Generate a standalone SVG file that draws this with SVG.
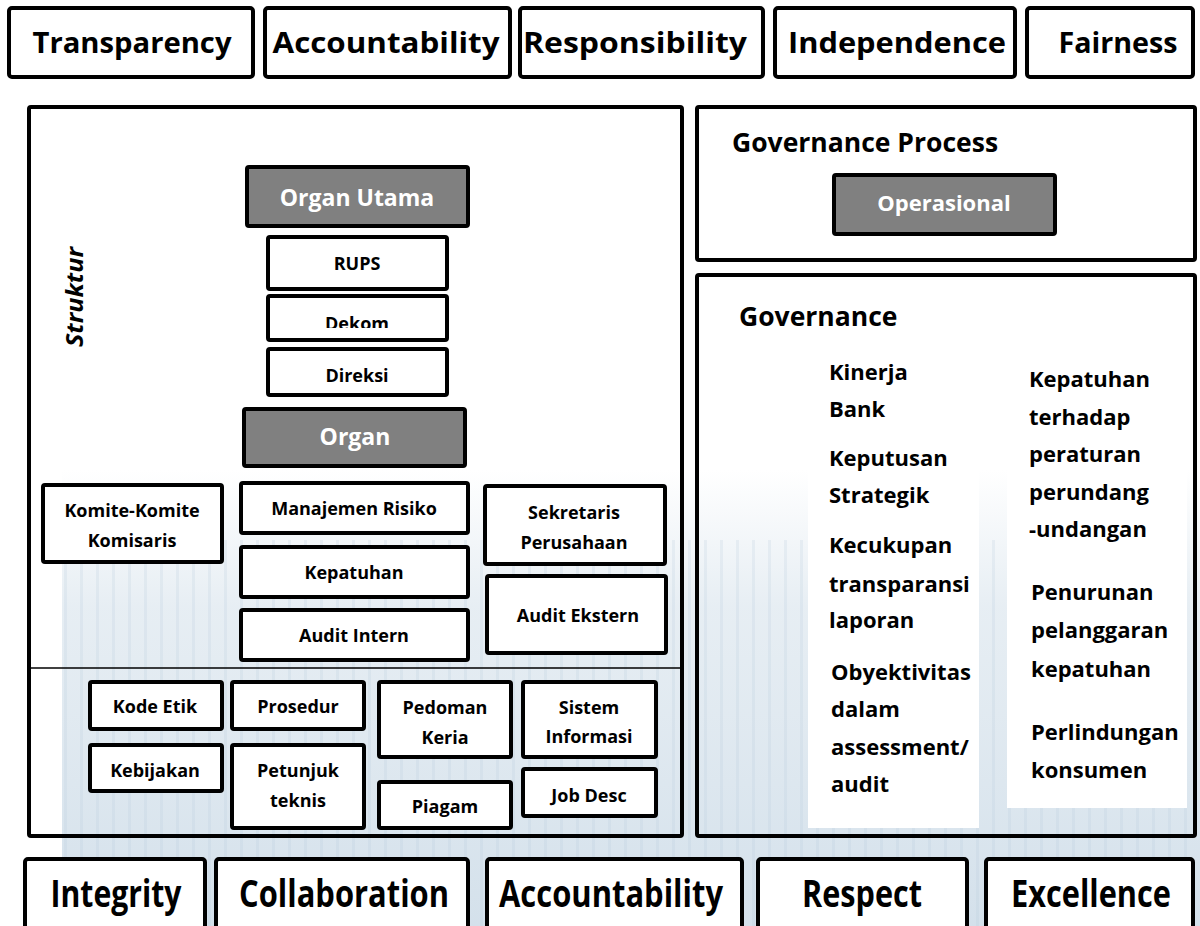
<svg xmlns="http://www.w3.org/2000/svg" width="1200" height="926" viewBox="0 0 1200 926">
<defs>
<style>
.box{fill:#fff;stroke:#000;stroke-width:4}
.dark{fill:#808080;stroke:#000;stroke-width:4}
.frame{fill:none;stroke:#000;stroke-width:4}
.t{font-family:"Open Sans","Noto Sans","Liberation Sans",sans-serif;font-weight:700;fill:#000;text-anchor:middle}
.w{fill:#fff}
.big{font-size:28px}
.low{font-size:37px}
.s{font-size:18px}
.m{font-size:23px}
.g{font-family:"Open Sans","Noto Sans","Liberation Sans",sans-serif;font-weight:700;fill:#000;font-size:22px}
.h{font-family:"Open Sans","Noto Sans","Liberation Sans",sans-serif;font-weight:700;fill:#000;font-size:26.5px}
</style>
<linearGradient id="bgfade" x1="0" y1="470" x2="0" y2="926" gradientUnits="userSpaceOnUse">
<stop offset="0" stop-color="#d3e0ea" stop-opacity="0"/>
<stop offset="0.3" stop-color="#d3e0ea" stop-opacity="0.55"/>
<stop offset="1" stop-color="#c9d9e6" stop-opacity="0.8"/>
</linearGradient>
<pattern id="stripes" x="0" y="0" width="16" height="40" patternUnits="userSpaceOnUse">
<rect x="0" y="0" width="3" height="40" fill="#b4c8d8" opacity="0.35"/>
</pattern>
<clipPath id="clipDekom"><rect x="268" y="296" width="179" height="32"/></clipPath>
<clipPath id="clipKerja"><rect x="379" y="682" width="132" height="62"/></clipPath>
</defs>
<rect x="0" y="0" width="1200" height="926" fill="#fff"/>
<g id="background">
<rect x="62" y="470" width="1138" height="456" fill="url(#bgfade)"/>
<rect x="62" y="540" width="1138" height="386" fill="url(#stripes)" opacity="0.6"/>
</g>

<g id="top-values">
<g id="transparency"><rect class="box" x="9" y="8" width="244" height="69" rx="3"/><text class="t big" x="132" y="53" textLength="199" lengthAdjust="spacingAndGlyphs">Transparency</text></g>
<g id="accountability-top"><rect class="box" x="265" y="8" width="245" height="69" rx="3"/><text class="t big" x="386" y="53" textLength="227" lengthAdjust="spacingAndGlyphs">Accountability</text></g>
<g id="responsibility"><rect class="box" x="520" y="8" width="243" height="69" rx="3"/><text class="t big" x="635" y="53" textLength="224" lengthAdjust="spacingAndGlyphs">Responsibility</text></g>
<g id="independence"><rect class="box" x="775" y="8" width="240" height="69" rx="3"/><text class="t big" x="897" y="53" textLength="218" lengthAdjust="spacingAndGlyphs">Independence</text></g>
<g id="fairness"><rect class="box" x="1027" y="8" width="166" height="69" rx="3"/><text class="t big" x="1118" y="53" textLength="119" lengthAdjust="spacingAndGlyphs">Fairness</text></g>
</g>

<g id="struktur-panel">
<rect class="frame" x="29" y="107" width="653" height="729" rx="2"/>
<text class="t" font-style="italic" font-size="23" transform="translate(83,297) rotate(-90)" textLength="100" lengthAdjust="spacingAndGlyphs">Struktur</text>
</g>
<g id="connectors">
<line x1="29" y1="668" x2="682" y2="668" stroke="#000" stroke-width="1.5"/>
</g>

<g id="organ-utama"><rect class="dark" x="247" y="167" width="221" height="59" rx="2"/><text class="t w m" x="357" y="206">Organ Utama</text></g>
<g id="rups"><rect class="box" x="268" y="237" width="179" height="52" rx="2"/><text class="t s" x="357" y="270">RUPS</text></g>
<g id="dekom"><rect class="box" x="268" y="296" width="179" height="44" rx="2"/><text class="t s" x="357" y="329.5" clip-path="url(#clipDekom)">Dekom</text></g>
<g id="direksi"><rect class="box" x="268" y="349" width="179" height="46" rx="2"/><text class="t s" x="357" y="382">Direksi</text></g>
<g id="organ"><rect class="dark" x="244" y="409" width="221" height="57" rx="2"/><text class="t w m" x="355" y="445">Organ</text></g>

<g id="komite"><rect class="box" x="43" y="485" width="179" height="77" rx="2"/><text class="t s" x="132" y="517">Komite-Komite</text><text class="t s" x="132" y="547">Komisaris</text></g>
<g id="manajemen-risiko"><rect class="box" x="241" y="483" width="227" height="50" rx="2"/><text class="t s" x="354" y="515">Manajemen Risiko</text></g>
<g id="kepatuhan"><rect class="box" x="241" y="547" width="227" height="50" rx="2"/><text class="t s" x="354" y="579">Kepatuhan</text></g>
<g id="audit-intern"><rect class="box" x="241" y="610" width="227" height="50" rx="2"/><text class="t s" x="354" y="642">Audit Intern</text></g>
<g id="sekretaris"><rect class="box" x="485" y="486" width="180" height="78" rx="2"/><text class="t s" x="574" y="519">Sekretaris</text><text class="t s" x="574" y="549">Perusahaan</text></g>
<g id="audit-ekstern"><rect class="box" x="487" y="576" width="179" height="77" rx="2"/><text class="t s" x="578" y="622">Audit Ekstern</text></g>

<g id="kode-etik"><rect class="box" x="90" y="682" width="132" height="47" rx="2"/><text class="t s" x="155" y="713">Kode Etik</text></g>
<g id="prosedur"><rect class="box" x="232" y="682" width="132" height="47" rx="2"/><text class="t s" x="298" y="713">Prosedur</text></g>
<g id="pedoman-kerja"><rect class="box" x="379" y="682" width="132" height="75" rx="2"/><text class="t s" x="445" y="714">Pedoman</text><text class="t s" x="445" y="744" clip-path="url(#clipKerja)">Kerja</text></g>
<g id="sistem-informasi"><rect class="box" x="523" y="682" width="133" height="75" rx="2"/><text class="t s" x="589" y="714">Sistem</text><text class="t s" x="589" y="743">Informasi</text></g>
<g id="kebijakan"><rect class="box" x="90" y="745" width="132" height="46" rx="2"/><text class="t s" x="155" y="777">Kebijakan</text></g>
<g id="petunjuk-teknis"><rect class="box" x="232" y="745" width="132" height="83" rx="2"/><text class="t s" x="298" y="777">Petunjuk</text><text class="t s" x="298" y="807">teknis</text></g>
<g id="piagam"><rect class="box" x="379" y="782" width="132" height="46" rx="2"/><text class="t s" x="445" y="813">Piagam</text></g>
<g id="job-desc"><rect class="box" x="523" y="769" width="133" height="47" rx="2"/><text class="t s" x="589" y="802">Job Desc</text></g>

<g id="governance-process">
<rect class="box" x="697" y="107" width="498" height="153" rx="2"/>
<text class="h" x="732" y="152">Governance Process</text>
</g>
<g id="operasional"><rect class="dark" x="834" y="175" width="221" height="59" rx="2"/><text class="t w" font-size="22" x="944" y="211">Operasional</text></g>

<g id="governance">
<rect x="808" y="300" width="171" height="528" fill="#fff"/>
<rect x="1007" y="300" width="180" height="508" fill="#fff"/>
<rect class="frame" x="697" y="275" width="498" height="561" rx="2"/>
<text class="h" x="739" y="326">Governance</text>
<text class="g" x="829" y="380">Kinerja</text>
<text class="g" x="829" y="417">Bank</text>
<text class="g" x="829" y="466">Keputusan</text>
<text class="g" x="829" y="503">Strategik</text>
<text class="g" x="829" y="553">Kecukupan</text>
<text class="g" x="829" y="592">transparansi</text>
<text class="g" x="829" y="628">laporan</text>
<text class="g" x="831" y="680">Obyektivitas</text>
<text class="g" x="831" y="717">dalam</text>
<text class="g" x="831" y="755">assessment/</text>
<text class="g" x="831" y="792">audit</text>
<text class="g" x="1029" y="387">Kepatuhan</text>
<text class="g" x="1029" y="425">terhadap</text>
<text class="g" x="1029" y="462">peraturan</text>
<text class="g" x="1029" y="500">perundang</text>
<text class="g" x="1029" y="537">-undangan</text>
<text class="g" x="1031" y="600">Penurunan</text>
<text class="g" x="1031" y="638">pelanggaran</text>
<text class="g" x="1031" y="677">kepatuhan</text>
<text class="g" x="1031" y="740">Perlindungan</text>
<text class="g" x="1031" y="778">konsumen</text>
</g>

<g id="bottom-values">
<g id="integrity"><rect class="box" x="25" y="859" width="180" height="72" rx="3"/><text class="t low" x="116" y="907" textLength="131" lengthAdjust="spacingAndGlyphs">Integrity</text></g>
<g id="collaboration"><rect class="box" x="216" y="859" width="252" height="72" rx="3"/><text class="t low" x="344" y="907" textLength="210" lengthAdjust="spacingAndGlyphs">Collaboration</text></g>
<g id="accountability-bottom"><rect class="box" x="487" y="859" width="255" height="72" rx="3"/><text class="t low" x="611" y="907" textLength="224" lengthAdjust="spacingAndGlyphs">Accountability</text></g>
<g id="respect"><rect class="box" x="758" y="859" width="209" height="72" rx="3"/><text class="t low" x="862" y="907" textLength="120" lengthAdjust="spacingAndGlyphs">Respect</text></g>
<g id="excellence"><rect class="box" x="986" y="859" width="207" height="72" rx="3"/><text class="t low" x="1091" y="907" textLength="160" lengthAdjust="spacingAndGlyphs">Excellence</text></g>
</g>
</svg>
